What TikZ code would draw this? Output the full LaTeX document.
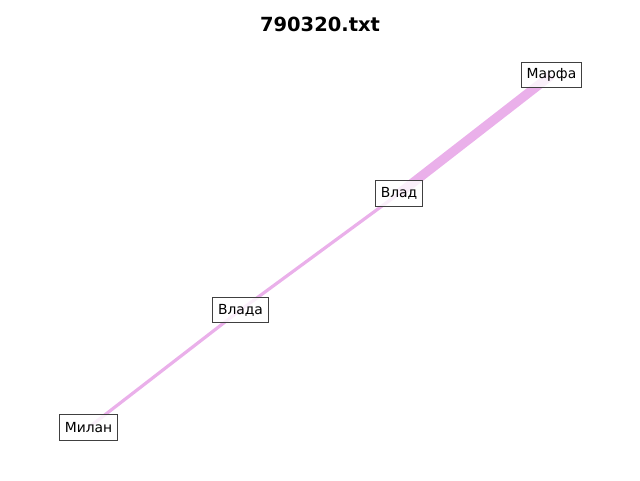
\documentclass[tikz,border=0pt]{standalone}
\usepackage{fontspec}
\setmainfont{DejaVu Sans}
\usetikzlibrary{calc}
\definecolor{edgeviolet}{RGB}{234,176,234}
\definecolor{boxgray}{RGB}{64,64,64}
\tikzset{
  namebox/.style={draw=boxgray,line width=0.75pt,fill=white,fill opacity=0.8,
    text opacity=1,inner xsep=3.8pt,inner ysep=3.2pt,minimum height=19pt,
    font=\fontsize{10.4}{12}\selectfont},
  link/.style={edgeviolet,line width=#1}
}

\begin{document}
\begin{tikzpicture}[x=0.75pt,y=-0.75pt]
\useasboundingbox (0,0) rectangle (640,480);
\node[font=\fontsize{14.6}{17}\selectfont\bfseries] (title) at (320,24) {790320.txt};
\coordinate (marfa) at (551.5,75);
\coordinate (vlad) at (399,193.5);
\coordinate (vlada) at (240.5,310);
\coordinate (milan) at (88.5,427.5);
\draw[link=7pt] (marfa) -- (vlad);
\draw[link=2.4pt] (vlad) -- (vlada);
\draw[link=2.4pt] (vlada) -- (milan);
\node[namebox] (nmarfa) at (marfa) {Марфа};
\node[namebox] (nvlad) at (vlad) {Влад};
\node[namebox] (nvlada) at (vlada) {Влада};
\node[namebox] (nmilan) at (milan) {Милан};
\end{tikzpicture}
\end{document}
